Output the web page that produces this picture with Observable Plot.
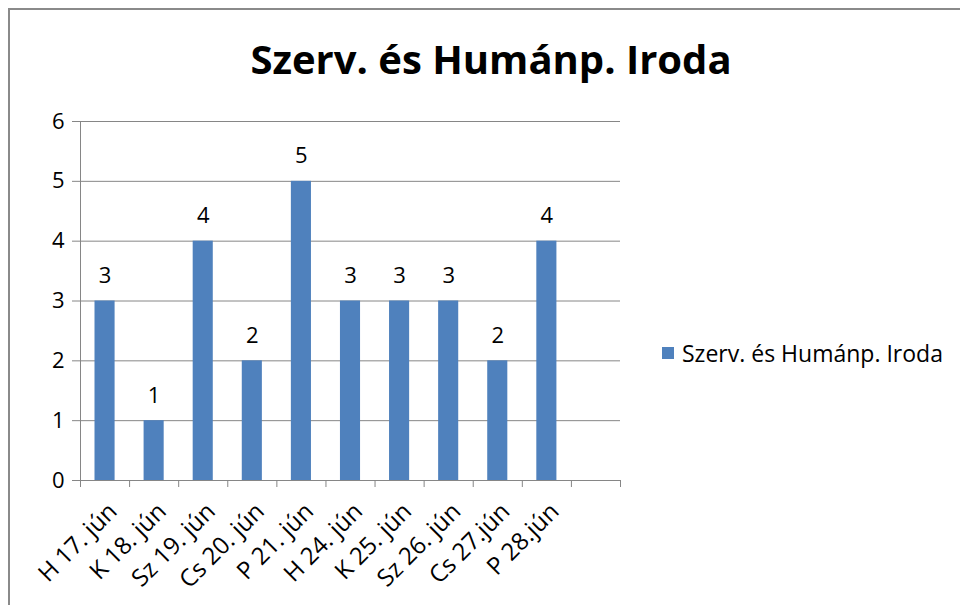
<!DOCTYPE html>
<html>
<head>
<meta charset="utf-8">
<script src="https://cdn.jsdelivr.net/npm/d3@7"></script>
<script src="https://cdn.jsdelivr.net/npm/@observablehq/plot@0.6"></script>
<style>
  html, body { margin: 0; padding: 0; background: #fff; }
  #wrap { position: relative; width: 960px; height: 605px; overflow: hidden; font-family: "Open Sans", Lato, sans-serif; }
  #border { position: absolute; left: 8px; top: 8px; width: 1100px; height: 800px; border: 2px solid #8a8a8a; box-sizing: border-box; }
  #title { position: absolute; left: 0; width: 982px; top: 35px; text-align: center; font-size: 40px; font-weight: bold; color: #000; line-height: 1.2; }
  #legend { position: absolute; left: 662px; top: 337px; font-size: 23px; color: #000; display: flex; align-items: center; white-space: nowrap; }
  #legend span.sw { display: inline-block; width: 12px; height: 12px; background: #4F81BD; margin-right: 8px; }
  #chart { position: absolute; left: 0; top: 0; }
</style>
</head>
<body>
<div id="wrap">
  <div id="border"></div>
  <div id="chart"></div>
  <div id="title">Szerv. és Humánp. Iroda</div>
  <div id="legend"><span class="sw"></span><span id="legText"></span></div>
</div>
<script>
const seriesName = "Szerv. és Humánp. Iroda";
const categories = ["H 17. jún", "K 18. jún", "Sz 19. jún", "Cs 20. jún", "P 21. jún", "H 24. jún", "K 25. jún", "Sz 26. jún", "Cs 27.jún", "P 28.jún", ""];
const values = [3, 1, 4, 2, 5, 3, 3, 3, 2, 4, null];
const yTicks = [0, 1, 2, 3, 4, 5, 6];

document.getElementById("legText").textContent = seriesName;

const data = categories.map((c, i) => ({cat: c, i, value: values[i]}));
const barData = data.filter(d => d.value != null);
const boundaries = d3.range(categories.length + 1);

const gridColor = "#868686";
const font = "'Open Sans', Lato, sans-serif";
const chart = Plot.plot({
  width: 960,
  height: 605,
  marginLeft: 80,
  marginRight: 340,
  marginTop: 121,
  marginBottom: 125,
  style: {fontFamily: font, fontSize: "22px", color: "#000", background: "transparent", overflow: "visible"},
  x: {type: "linear", domain: [0, categories.length], axis: null},
  y: {domain: [0, 6], axis: null},
  marks: [
    Plot.ruleY(yTicks, {stroke: gridColor, strokeWidth: 1}),
    Plot.ruleX([0], {stroke: gridColor, strokeWidth: 1}),
    Plot.axisY({ticks: yTicks, tickSize: 8, tickPadding: 8, stroke: gridColor, strokeOpacity: 1, fontSize: 22, fill: "#000", label: null, tickFormat: d => d}),
    Plot.axisX({ticks: boundaries, tickSize: 7, tickFormat: () => "", stroke: gridColor, strokeOpacity: 1, label: null}),
    Plot.rectY(barData, {x1: d => d.i, x2: d => d.i + 1, y: "value", fill: "#4F81BD", insetLeft: 14.5, insetRight: 14.5}),
    Plot.text(barData, {x: d => d.i + 0.5, y: "value", text: d => String(d.value), dy: -25, fontSize: 22, fill: "#000"}),
    Plot.text(data, {x: d => d.i + 0.5, y: () => 0, text: "cat", rotate: -45, textAnchor: "end", dx: 8, dy: 27, fontSize: 24, fill: "#000"})
  ]
});
document.getElementById("chart").appendChild(chart);
</script>
</body>
</html>
